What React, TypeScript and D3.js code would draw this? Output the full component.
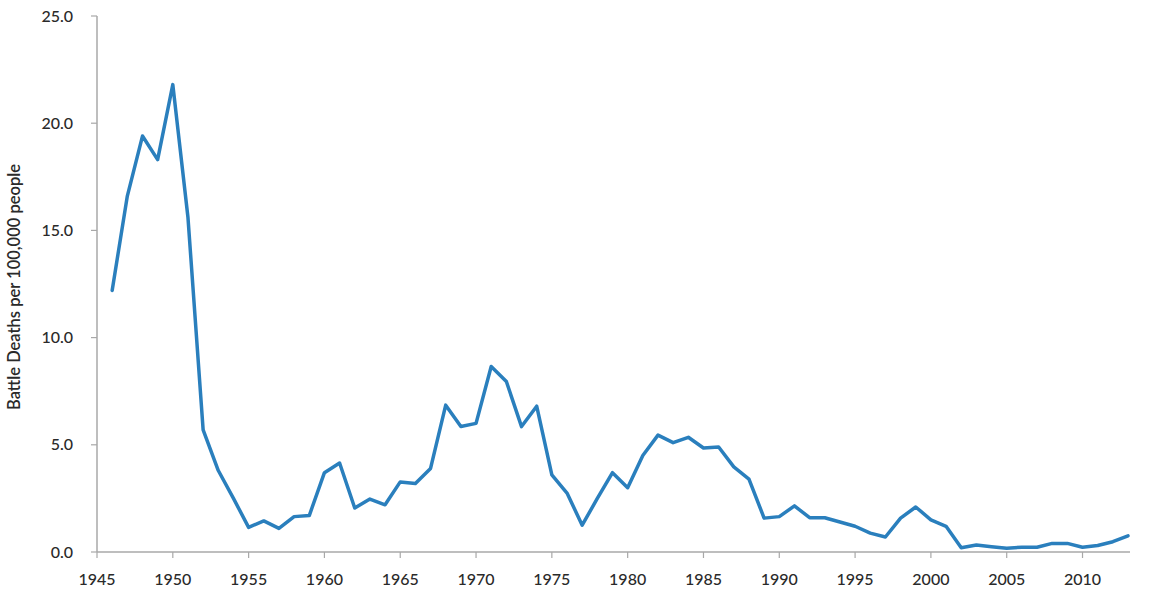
import React from "react";
import * as d3 from "d3";

const years: number[] = d3.range(1946, 2014);
const deaths: number[] = [
  12.2, 16.6, 19.4, 18.3, 21.8, 15.6, 5.7, 3.8, 2.5, 1.15,
  1.45, 1.1, 1.65, 1.7, 3.7, 4.15, 2.05, 2.47, 2.2, 3.27,
  3.2, 3.9, 6.85, 5.85, 6.0, 8.65, 7.95, 5.85, 6.8, 3.6,
  2.75, 1.25, 2.5, 3.7, 3.0, 4.5, 5.45, 5.1, 5.35, 4.85,
  4.9, 3.97, 3.4, 1.58, 1.65, 2.15, 1.6, 1.6, 1.4, 1.2,
  0.88, 0.7, 1.58, 2.1, 1.5, 1.2, 0.2, 0.33, 0.25, 0.18,
  0.22, 0.22, 0.4, 0.4, 0.22, 0.3, 0.48, 0.75,
];
const xTicks: number[] = [1945, 1950, 1955, 1960, 1965, 1970, 1975, 1980, 1985, 1990, 1995, 2000, 2005, 2010];
const yTicks: number[] = [0, 5, 10, 15, 20, 25];
const yLabel = "Battle Deaths per 100,000 people";

export default function App() {
  const W = 1158, H = 589;
  const x = d3.scaleLinear().domain([1945, 2013]).range([97, 1128]);
  const y = d3.scaleLinear().domain([0, 25]).range([552, 16]);
  const data = years.map((yr, i) => ({ yr, v: deaths[i] }));
  const line = d3.line<{ yr: number; v: number }>().x(d => x(d.yr)).y(d => y(d.v));
  const font = "Lato, 'Open Sans', sans-serif";
  const axisColor = "#a8a8a8";
  const textColor = "#2a2a2a";
  return (
    <svg width={W} height={H} style={{ position: "absolute", left: 0, top: 0, background: "#fff" }}>
      <rect x={0} y={0} width={W} height={H} fill="#fff" />
      <line x1={x(1945)} x2={x(1945)} y1={y(25)} y2={y(0)} stroke={axisColor} strokeWidth={1.5} />
      {yTicks.map(t => (
        <g key={"y" + t}>
          <line x1={x(1945) - 6} x2={x(1945)} y1={y(t)} y2={y(t)} stroke={axisColor} strokeWidth={1.2} />
          <text x={73} y={y(t)} dy="0.35em" textAnchor="end" fontFamily={font} fontSize={16} fontWeight={500} fill={textColor}>
            {t.toFixed(1)}
          </text>
        </g>
      ))}
      <line x1={x(1945)} x2={x(2013) + 2} y1={y(0)} y2={y(0)} stroke={axisColor} strokeWidth={1.5} />
      {xTicks.map(t => (
        <g key={"x" + t}>
          <line x1={x(t)} x2={x(t)} y1={y(0)} y2={y(0) + 6} stroke={axisColor} strokeWidth={1.2} />
          <text x={x(t)} y={579} dy="0.35em" textAnchor="middle" fontFamily={font} fontSize={16} fontWeight={500} fill={textColor}>
            {t}
          </text>
        </g>
      ))}
      <text
        transform={`translate(20, ${y(12.36)}) rotate(-90)`}
        textAnchor="middle"
        fontFamily={font}
        fontSize={16.5}
        fontWeight={600}
        fill={textColor}
      >
        {yLabel}
      </text>
      <path d={line(data) || ""} fill="none" stroke="#2a7fbd" strokeWidth={3.5} strokeLinejoin="round" strokeLinecap="round" />
    </svg>
  );
}
